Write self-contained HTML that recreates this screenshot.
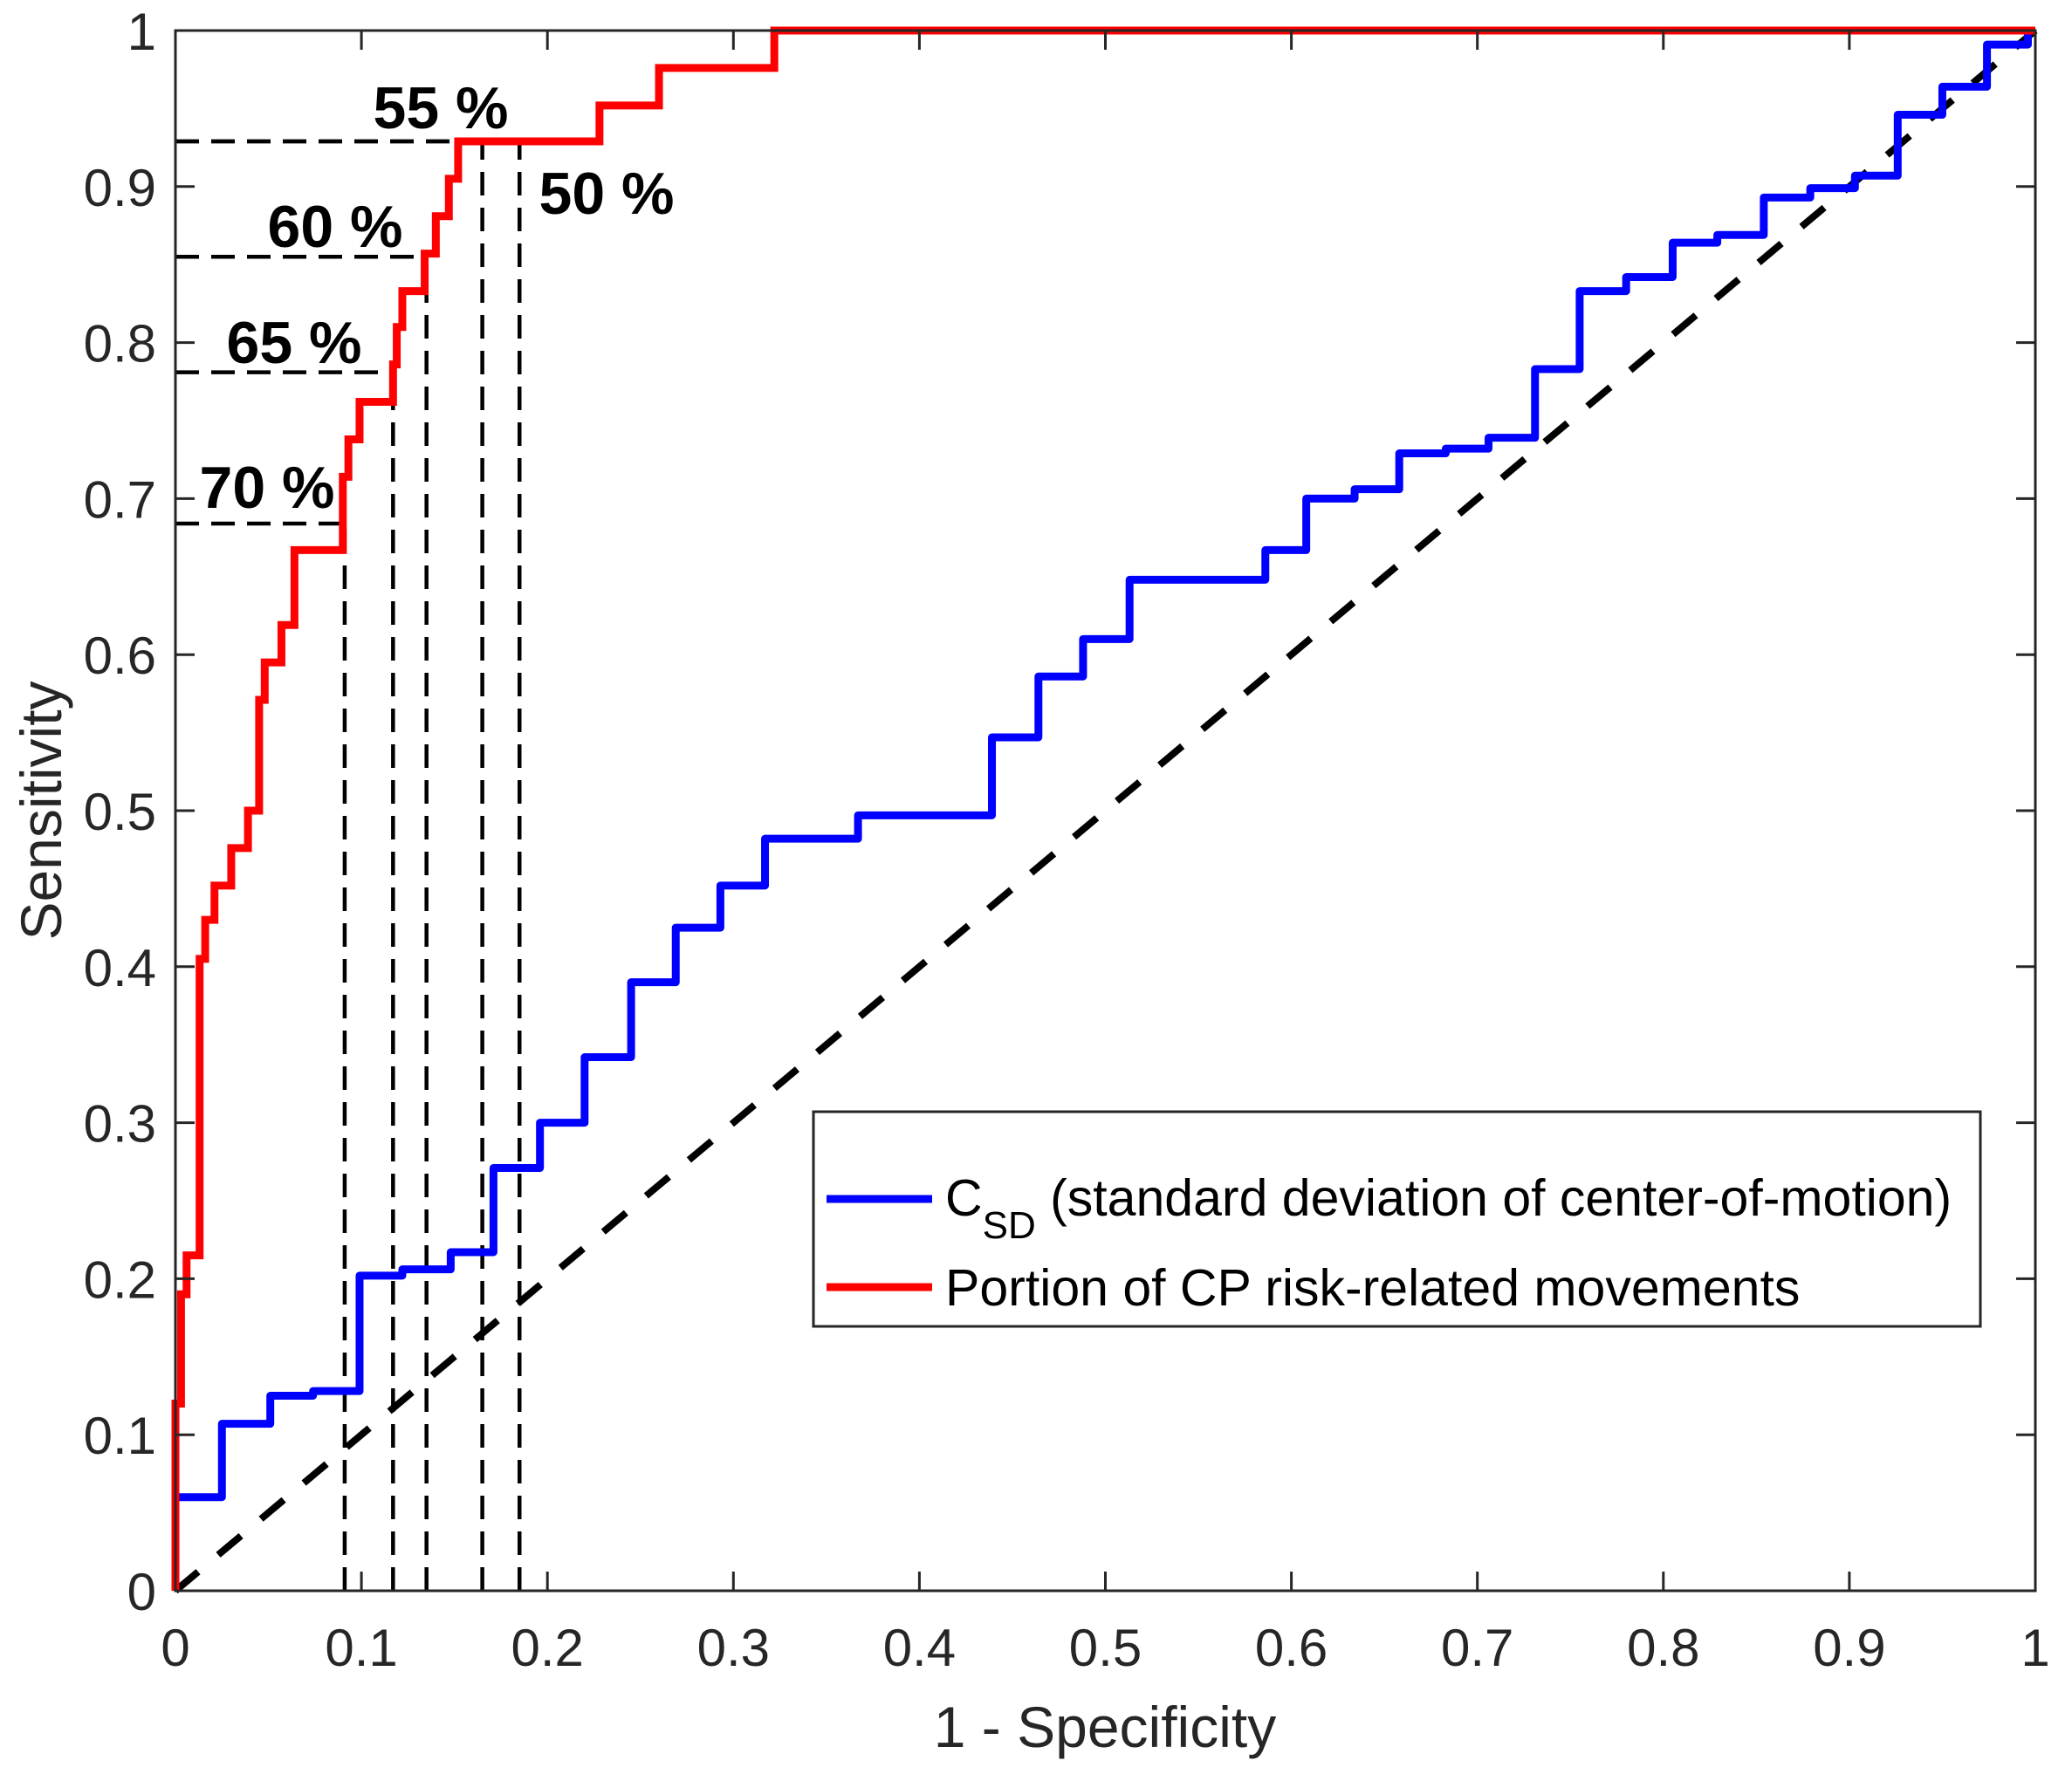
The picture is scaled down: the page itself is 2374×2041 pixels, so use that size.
<!DOCTYPE html>
<html><head><meta charset="utf-8"><style>
html,body{margin:0;padding:0;background:#fff}
svg{display:block}
text{font-family:"Liberation Sans",Arial,sans-serif}
</style></head><body>
<svg id="chart" width="2374" height="2041" viewBox="0 0 2374 2041" xmlns="http://www.w3.org/2000/svg">
<g id="plot"></g>
</svg>
<script>
const xTicks=[0,0.1,0.2,0.3,0.4,0.5,0.6,0.7,0.8,0.9,1];
const xTickLabels=["0","0.1","0.2","0.3","0.4","0.5","0.6","0.7","0.8","0.9","1"];
const yTicks=[0,0.1,0.2,0.3,0.4,0.5,0.6,0.7,0.8,0.9,1];
const yTickLabels=["0","0.1","0.2","0.3","0.4","0.5","0.6","0.7","0.8","0.9","1"];
const redX=[0,0,0.003,0.006,0.013,0.016,0.021,0.030,0.039,0.045,0.048,0.057,0.064,0.090,0.093,0.099,0.117,0.119,0.122,0.134,0.140,0.147,0.152,0.228,0.260,0.322,1];
const redY=[0,0.12,0.19,0.215,0.405,0.43,0.452,0.476,0.50,0.571,0.595,0.619,0.667,0.714,0.738,0.762,0.786,0.81,0.833,0.857,0.881,0.905,0.929,0.952,0.976,1.0,1.0];
const blueX=[0,0,0.025,0.051,0.074,0.099,0.122,0.148,0.171,0.196,0.22,0.245,0.269,0.293,0.317,0.367,0.439,0.464,0.488,0.513,0.586,0.608,0.634,0.658,0.683,0.706,0.731,0.755,0.780,0.805,0.829,0.854,0.879,0.903,0.926,0.950,0.974,0.996,1];
const blueY=[0,0.06,0.107,0.125,0.128,0.202,0.206,0.217,0.271,0.30,0.342,0.39,0.425,0.452,0.482,0.497,0.547,0.586,0.61,0.648,0.667,0.70,0.706,0.729,0.732,0.739,0.783,0.833,0.842,0.864,0.869,0.893,0.899,0.907,0.946,0.964,0.991,1.0,1.0];
const thrLabels=["70 %","65 %","60 %","55 %","50 %"];
const thrX=[0.091,0.117,0.135,0.165,0.185];
const thrY=[0.684,0.781,0.855,0.929,0.929];

const L=201,R=2332,T=35,B=1823;
const sx=v=>L+(R-L)*v, sy=v=>B-(B-T)*v;
const NS="http://www.w3.org/2000/svg";
const g=document.getElementById('plot');
function mk(tag,attrs){const e=document.createElementNS(NS,tag);for(const k in attrs)e.setAttribute(k,attrs[k]);g.appendChild(e);return e;}
function stairs(xs,ys){let d="M"+sx(xs[0])+","+sy(ys[0]);for(let i=1;i<xs.length;i++){d+=" L"+sx(xs[i])+","+sy(ys[i-1])+" L"+sx(xs[i])+","+sy(ys[i]);}return d;}

for(let i=0;i<thrX.length;i++){
  const h=mk('line',{x1:sx(0),y1:sy(thrY[i]),x2:sx(thrX[i]),y2:sy(thrY[i]),stroke:'#000','stroke-width':4.5,'stroke-dasharray':'27 14'});
  
  
  const v=mk('line',{x1:sx(thrX[i]),y1:sy(0),x2:sx(thrX[i]),y2:sy(thrY[i]),stroke:'#000','stroke-width':4.5,'stroke-dasharray':'27 14'});
  
  
}
const dg=mk('line',{x1:sx(0),y1:sy(0),x2:sx(1),y2:sy(1),stroke:'#000','stroke-width':8,'stroke-dasharray':'34 30'});


const bl=mk('path',{d:stairs(blueX,blueY),fill:'none',stroke:'#0000ff','stroke-width':9,'stroke-linejoin':'round'});


const rd=mk('path',{d:stairs(redX,redY),fill:'none',stroke:'#ff0000','stroke-width':9,'stroke-linejoin':'miter'});


const bx=mk('rect',{x:L,y:T,width:R-L,height:B-T,fill:'none',stroke:'#262626','stroke-width':3});


for(let i=0;i<xTicks.length;i++){
  const x=sx(xTicks[i]);
  const t1=mk('line',{x1:x,y1:B,x2:x,y2:B-22,stroke:'#262626','stroke-width':3});
  
  
  const t2=mk('line',{x1:x,y1:T,x2:x,y2:T+22,stroke:'#262626','stroke-width':3});
  
  
  const tl=mk('text',{x:x,y:B+86,'text-anchor':'middle','font-size':60,fill:'#262626'});
  tl.textContent=xTickLabels[i];
  
  
}
for(let i=0;i<yTicks.length;i++){
  const y=sy(yTicks[i]);
  const t1=mk('line',{x1:L,y1:y,x2:L+22,y2:y,stroke:'#262626','stroke-width':3});
  
  
  const t2=mk('line',{x1:R,y1:y,x2:R-22,y2:y,stroke:'#262626','stroke-width':3});
  
  
  const tl=mk('text',{x:L-22,y:y+22,'text-anchor':'end','font-size':60,fill:'#262626'});
  tl.textContent=yTickLabels[i];
  
  
}
const lblPos=[[306,582],[337,416],[384,283],[505,147],[695,245]];
for(let i=0;i<thrLabels.length;i++){
  const t=mk('text',{x:lblPos[i][0],y:lblPos[i][1],'text-anchor':'middle','font-size':68,'font-weight':'bold',fill:'#000'});
  t.textContent=thrLabels[i];
  
  
}
</script>
<svg style="position:absolute;left:0;top:0" width="2374" height="2041" viewBox="0 0 2374 2041" xmlns="http://www.w3.org/2000/svg">
<text x="1266" y="2002" text-anchor="middle" font-size="66" fill="#262626" font-family="Liberation Sans, sans-serif">1 - Specificity</text>
<text x="70" y="929" text-anchor="middle" font-size="66" fill="#262626" font-family="Liberation Sans, sans-serif" transform="rotate(-90 70 929)">Sensitivity</text>
<g>
<rect x="932" y="1274" width="1337" height="246" fill="#fff" stroke="#262626" stroke-width="3"/>
<line x1="947" y1="1374" x2="1068" y2="1374" stroke="#0000ff" stroke-width="9"/>
<text x="1083" y="1393" font-size="59" fill="#000" font-family="Liberation Sans, sans-serif">C<tspan font-size="44" dy="26">SD</tspan><tspan dy="-26"> (standard deviation of center-of-motion)</tspan></text>
<line x1="947" y1="1475" x2="1068" y2="1475" stroke="#ff0000" stroke-width="9"/>
<text x="1083" y="1496" font-size="59" fill="#000" font-family="Liberation Sans, sans-serif">Portion of CP risk-related movements</text>
</g>
</svg>
</body></html>
